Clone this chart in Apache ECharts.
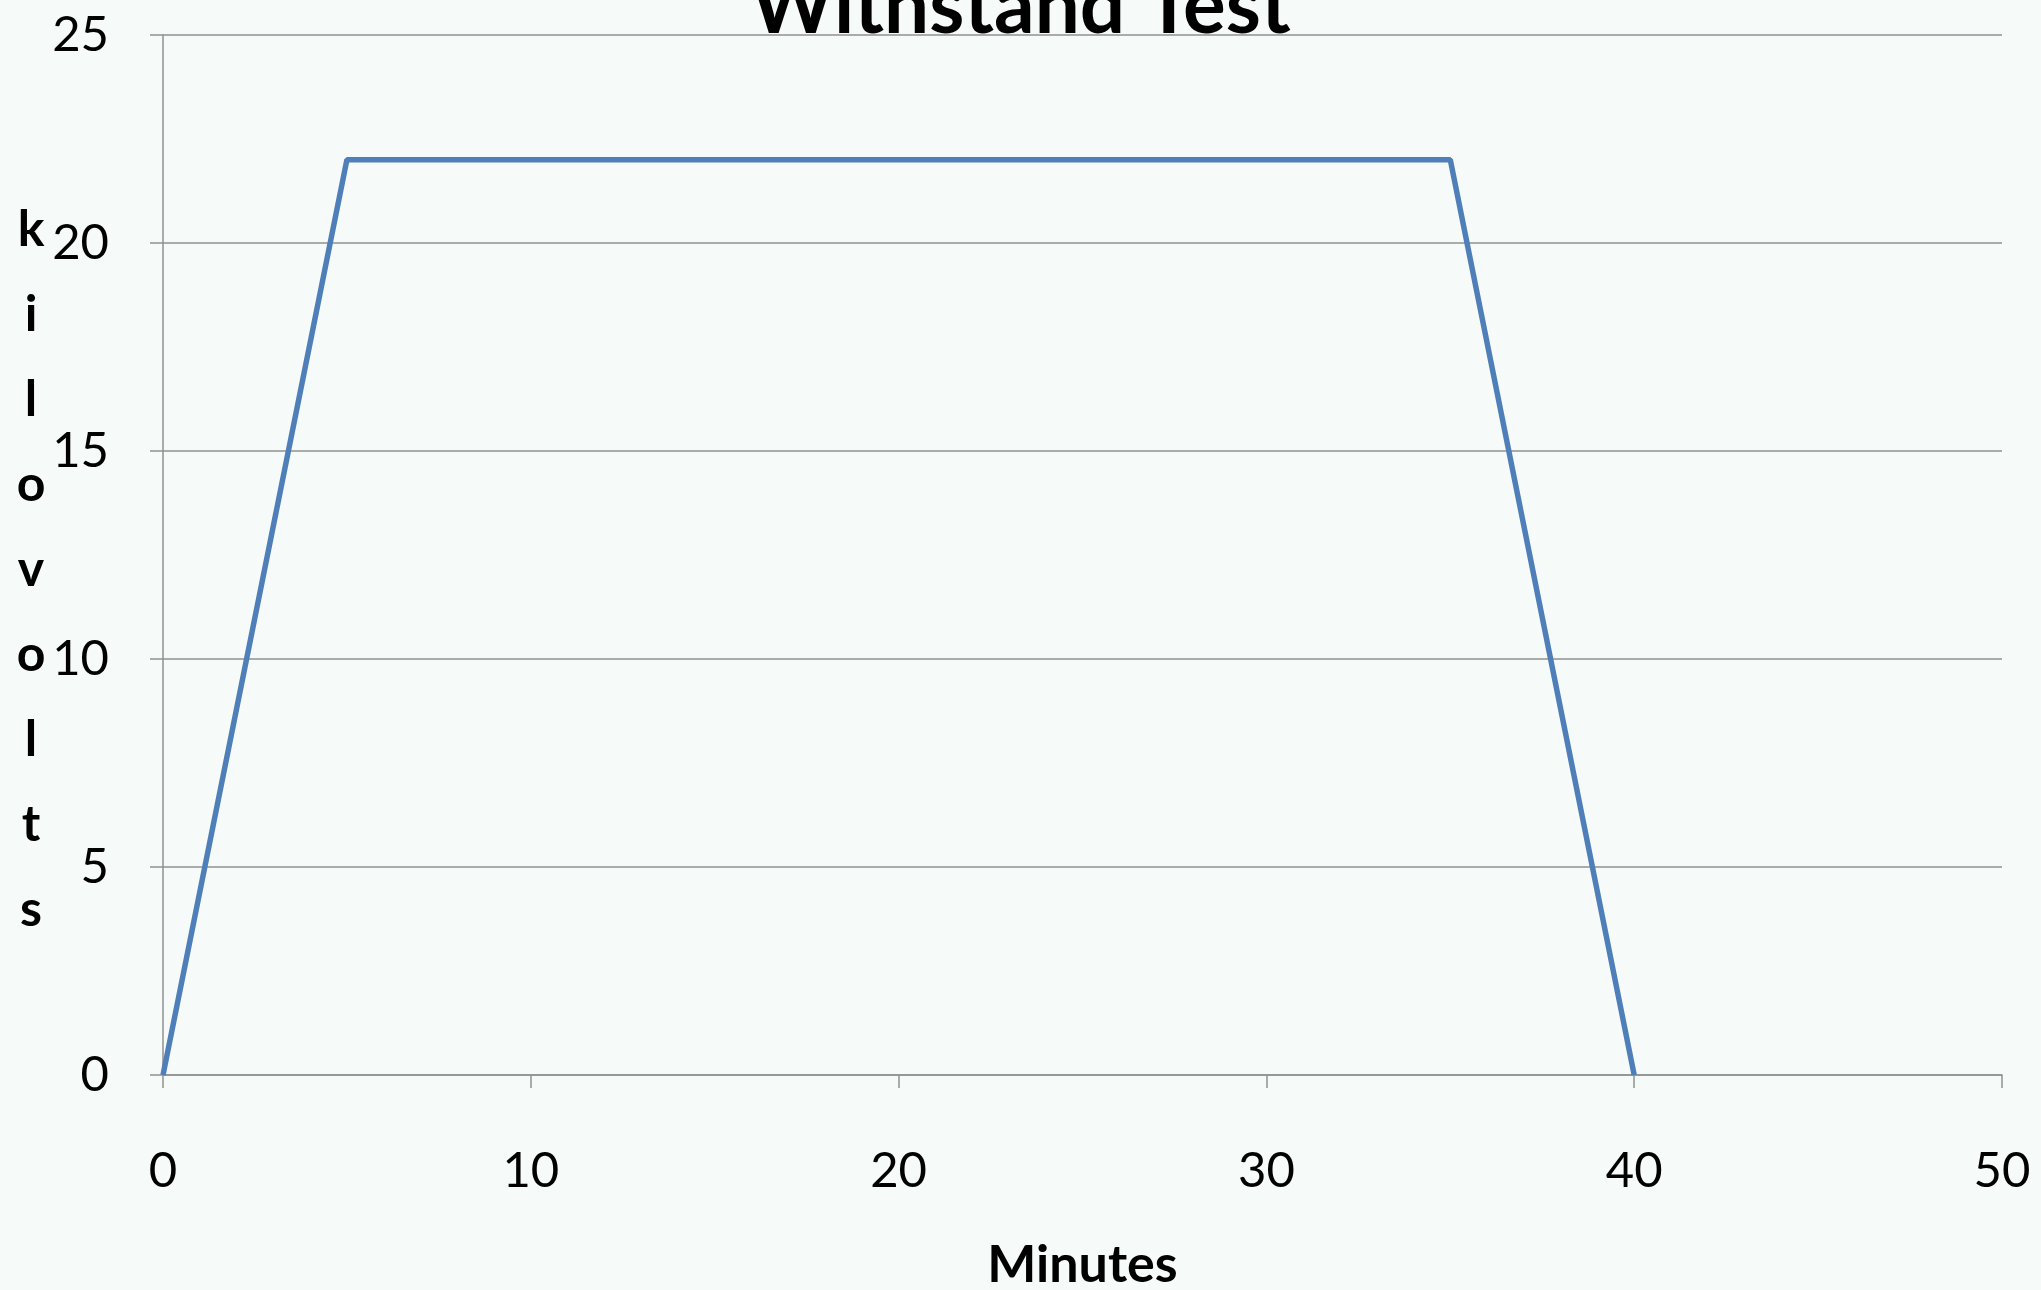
<!DOCTYPE html>
<html>
<head>
<meta charset="utf-8">
<title>Withstand Test</title>
<script src="https://cdn.jsdelivr.net/npm/echarts@6/dist/echarts.min.js"></script>
<style>
  html, body { margin: 0; padding: 0; background: #f6faf8; }
  #chart { width: 2041px; height: 1290px; }
</style>
</head>
<body>
<div id="chart"></div>
<script>
// data
const minutes = [0, 5, 35, 40]
const kilovolts = [0, 22, 22, 0]
const xTicks = [0, 10, 20, 30, 40, 50]
const yTicks = [0, 5, 10, 15, 20, 25]

const myChart = echarts.init(document.getElementById('chart'))
const font = 'Lato, "Open Sans", sans-serif'
const gridColor = '#8f9290'

const option = {
  backgroundColor: '#f6faf8',
  animation: false,
  title: {
    text: 'Withstand Test',
    left: 'center',
    top: -38,
    textStyle: {
      fontFamily: font,
      fontWeight: 'bold',
      fontSize: 80,
      color: '#000'
    }
  },
  grid: {
    left: 163,
    right: 39,
    top: 35,
    bottom: 215,
    containLabel: false,
    outerBoundsMode: 'none'
  },
  xAxis: {
    type: 'value',
    min: xTicks[0],
    max: xTicks[xTicks.length - 1],
    interval: 10,
    name: 'Minutes',
    nameLocation: 'middle',
    nameGap: 164,
    nameTextStyle: {
      fontFamily: font,
      fontWeight: 'bold',
      fontSize: 52,
      color: '#000'
    },
    axisLine: { show: true, lineStyle: { color: gridColor, width: 1.5 } },
    axisTick: { show: true, length: 13, lineStyle: { color: gridColor, width: 1.5 } },
    axisLabel: {
      margin: 72,
      fontFamily: font,
      fontSize: 49,
      color: '#000'
    },
    splitLine: { show: false }
  },
  yAxis: {
    type: 'value',
    min: yTicks[0],
    max: yTicks[yTicks.length - 1],
    interval: 5,
    // stacked letters, with a small spacer line on top to nudge them down
    name: '{sp| }\n' + 'kilovolts'.split('').join('\n'),
    nameLocation: 'middle',
    nameRotate: 0,
    nameGap: 132,
    nameTextStyle: {
      fontFamily: font,
      fontWeight: 'bold',
      fontSize: 50,
      lineHeight: 85,
      align: 'center',
      color: '#000',
      rich: {
        sp: { fontSize: 10, lineHeight: 30, height: 30 }
      }
    },
    axisLine: { show: true, lineStyle: { color: gridColor, width: 1.5 } },
    axisTick: { show: true, length: 13, lineStyle: { color: gridColor, width: 1.5 } },
    axisLabel: {
      margin: 54,
      fontFamily: font,
      fontSize: 49,
      color: '#000'
    },
    splitLine: { show: true, lineStyle: { color: gridColor, width: 1.5 } }
  },
  series: [
    {
      type: 'line',
      data: minutes.map((m, i) => [m, kilovolts[i]]),
      symbol: 'none',
      lineStyle: { color: '#4f7fb8', width: 5.5 },
      itemStyle: { color: '#4f7fb8' }
    }
  ]
}
myChart.setOption(option)
</script>
</body>
</html>
